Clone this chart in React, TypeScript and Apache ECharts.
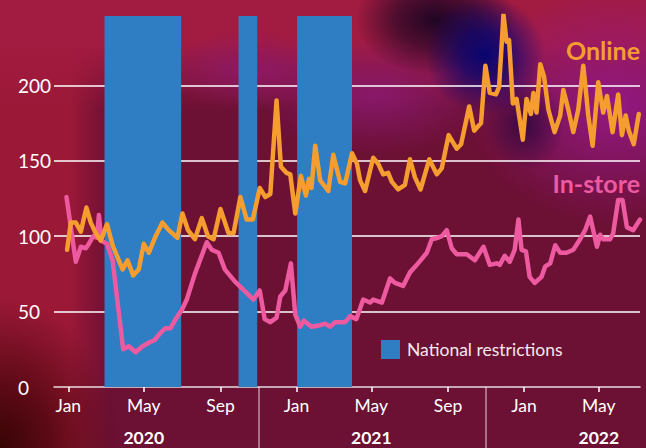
import React, { useEffect, useRef } from 'react';
import * as echarts from 'echarts';

// x values are days since 1 January 2020
const inStoreDays = [-3, 12, 20, 28, 33, 40, 46, 49, 53, 62, 71, 79, 88, 97, 108, 119, 132, 138, 148, 156, 164, 172, 182, 190, 203, 222, 230, 241, 251, 267, 297, 307, 315, 324, 334, 340, 348, 357, 364, 372, 378, 390, 404, 412, 420, 428, 444, 452, 462, 473, 484, 489, 503, 516, 524, 537, 548, 559, 575, 583, 593, 599, 607, 615, 623, 639, 652, 666, 676, 687, 692, 700, 708, 716, 722, 727, 734, 740, 748, 759, 765, 773, 781, 789, 799, 810, 821, 829, 837, 842, 848, 853, 858, 869, 874, 882, 889, 896, 906, 917];
const inStoreValues = [126, 83, 93, 92, 95, 100, 99, 114, 97, 95, 84, 56, 25, 27, 23, 27, 30, 31, 36, 39, 39, 45, 51, 58, 75, 96, 91, 89, 78, 70, 58, 64, 45, 43, 46, 60, 64, 82, 48, 40, 44, 40, 41, 42, 40, 43, 43, 47, 45, 58, 56, 58, 56, 72, 69, 67, 76, 81, 89, 98, 99, 100, 104, 92, 88, 88, 84, 93, 81, 82, 81, 87, 83, 91, 111, 91, 90, 73, 69, 73, 80, 82, 94, 89, 89, 91, 98, 104, 113, 104, 93, 101, 98, 98, 102, 124, 124, 106, 104, 111];

const onlineDays = [-2, 4, 12, 20, 29, 36, 44, 52, 62, 71, 81, 87, 95, 104, 113, 121, 129, 140, 151, 161, 175, 183, 192, 203, 214, 224, 233, 244, 257, 265, 276, 286, 296, 307, 316, 324, 334, 341, 350, 356, 364, 373, 381, 386, 390, 396, 404, 417, 425, 436, 444, 455, 463, 468, 476, 489, 497, 505, 513, 519, 529, 540, 548, 556, 565, 579, 591, 599, 610, 623, 630, 643, 651, 662, 669, 676, 686, 691, 698, 703, 707, 713, 719, 729, 735, 742, 746, 751, 757, 763, 770, 780, 789, 794, 802, 810, 818, 826, 831, 834, 841, 850, 858, 864, 873, 882, 888, 894, 899, 907, 915];
const onlineValues = [91, 109, 109, 103, 119, 109, 102, 97, 108, 94, 84, 78, 84, 74, 78, 95, 89, 100, 109, 104, 99, 115, 104, 98, 112, 100, 98, 118, 102, 102, 126, 111, 111, 132, 126, 128, 190, 146, 142, 141, 115, 140, 127, 138, 132, 160, 137, 130, 154, 136, 135, 155, 148, 137, 130, 152, 148, 141, 142, 136, 131, 134, 151, 139, 131, 151, 141, 145, 167, 158, 161, 186, 170, 175, 213, 195, 194, 199, 247, 229, 230, 188, 191, 164, 191, 181, 195, 182, 214, 206, 184, 169, 180, 197, 184, 169, 184, 213, 193, 180, 160, 202, 182, 193, 169, 194, 167, 180, 170, 161, 181];

const restrictionStarts = [58, 273, 367];
const restrictionEnds = [181, 303, 455];

const monthTickDays = [0, 121, 244, 366, 486, 609, 731, 851];
const monthTickLabels = ['Jan', 'May', 'Sep', 'Jan', 'May', 'Sep', 'Jan', 'May'];
const yearLabelDays = [121, 486, 851];
const yearLabels = ['2020', '2021', '2022'];
const yearSeparatorDays = [305, 670];

const BLUE = '#2f7ec3';
const ORANGE = '#f59d2f';
const PINK = '#ee5aa0';
const FONT = 'Lato, "Open Sans", sans-serif';

function nearestLabel(days: number[], labels: string[], v: number) {
  let best = 0;
  for (let i = 1; i < days.length; i++) {
    if (Math.abs(days[i] - v) < Math.abs(days[best] - v)) best = i;
  }
  return labels[best];
}

export default function App() {
  const ref = useRef<HTMLDivElement>(null);
  useEffect(() => {
    if (!ref.current) return;
    const chart = echarts.init(ref.current, undefined, { renderer: 'svg' });
    chart.setOption({
      animation: false,
      backgroundColor: 'transparent',
      grid: { left: 54, right: 6, top: 16, bottom: 61, containLabel: false },
      legend: {
        data: ['National restrictions'],
        left: 381,
        top: 340,
        padding: 0,
        icon: 'rect',
        itemWidth: 19,
        itemHeight: 19,
        textStyle: { color: '#f4e8ee', fontSize: 17.5, fontFamily: FONT, padding: [0, 0, 0, 2] },
        selectedMode: false,
      },
      xAxis: [
        {
          type: 'value',
          min: -23,
          max: 917,
          position: 'bottom',
          axisLine: { show: true, lineStyle: { color: 'rgba(255,255,255,0.85)', width: 1.5 } },
          axisTick: { show: true, customValues: monthTickDays, length: 5, lineStyle: { color: '#ffffff', width: 1.5 } },
          axisLabel: {
            customValues: monthTickDays,
            formatter: (v: number) => nearestLabel(monthTickDays, monthTickLabels, v),
            color: '#ffffff',
            fontSize: 17.5,
            fontFamily: FONT,
            margin: 9,
          },
          splitLine: { show: false },
        },
        {
          type: 'value',
          min: -23,
          max: 917,
          position: 'bottom',
          offset: 0,
          axisLine: { show: false },
          axisTick: { show: true, customValues: yearSeparatorDays, length: 62, lineStyle: { color: 'rgba(255,255,255,0.55)', width: 1.5 } },
          axisLabel: {
            customValues: yearLabelDays,
            formatter: (v: number) => nearestLabel(yearLabelDays, yearLabels, v),
            color: '#ffffff',
            fontSize: 17.5,
            fontWeight: 'bold',
            fontFamily: FONT,
            margin: 41,
          },
          splitLine: { show: false },
        },
      ],
      yAxis: {
        type: 'value',
        min: 0,
        max: 246,
        interval: 50,
        axisLine: { show: false },
        axisTick: { show: false },
        axisLabel: { color: '#ffffff', fontSize: 19, fontFamily: FONT, align: 'left', margin: 36, showMaxLabel: false },
        splitLine: {
          show: true,
          showMaxLine: false,
          lineStyle: { color: ['rgba(0,0,0,0)', '#ffffff', '#ffffff', '#ffffff', '#ffffff', 'rgba(0,0,0,0)'], width: 1.5 },
        },
      },
      series: [
        {
          name: 'National restrictions',
          type: 'line',
          data: [],
          z: 1,
          itemStyle: { color: BLUE },
          lineStyle: { color: BLUE },
          markArea: {
            silent: true,
            itemStyle: { color: BLUE, opacity: 1 },
            data: restrictionStarts.map((s, i) => [{ xAxis: s }, { xAxis: restrictionEnds[i] }]),
          },
        },
        {
          name: 'In-store',
          type: 'line',
          z: 3,
          showSymbol: false,
          data: inStoreDays.map((d, i) => [d, inStoreValues[i]]),
          lineStyle: { color: PINK, width: 4.5, join: 'round', cap: 'round' },
          itemStyle: { color: PINK },
        },
        {
          name: 'Online',
          type: 'line',
          z: 4,
          showSymbol: false,
          data: onlineDays.map((d, i) => [d, onlineValues[i]]),
          lineStyle: { color: ORANGE, width: 4.5, join: 'round', cap: 'round' },
          itemStyle: { color: ORANGE },
        },
      ],
      graphic: [
        {
          type: 'text',
          x: 640,
          y: 50,
          z: 10,
          style: { text: 'Online', align: 'right', verticalAlign: 'middle', textAlign: 'right', textVerticalAlign: 'middle', fill: ORANGE, font: 'bold 25px ' + FONT },
        },
        {
          type: 'text',
          x: 640,
          y: 183,
          z: 10,
          style: { text: 'In-store', align: 'right', verticalAlign: 'middle', textAlign: 'right', textVerticalAlign: 'middle', fill: PINK, font: 'bold 25px ' + FONT },
        },
      ],
    });
    return () => chart.dispose();
  }, []);

  const bg = [
    'radial-gradient(ellipse 60px 60px at 485px 55px, rgba(0,4,115,0.95) 0%, rgba(0,4,115,0.7) 40%, rgba(0,4,115,0) 100%)',
    'radial-gradient(ellipse 80px 55px at 435px 20px, rgba(25,4,35,0.95) 0%, rgba(25,4,35,0.6) 50%, rgba(25,4,35,0) 100%)',
    'radial-gradient(ellipse 40px 45px at 525px 125px, rgba(40,6,60,0.8) 0%, rgba(40,6,60,0) 100%)',
    'radial-gradient(ellipse 150px 120px at 615px 105px, rgba(150,25,135,0.95) 0%, rgba(150,25,135,0) 100%)',
    'radial-gradient(ellipse 120px 60px at 375px 95px, rgba(140,25,115,0.85) 0%, rgba(140,25,115,0) 100%)',
    'radial-gradient(ellipse 90px 40px at 250px 70px, rgba(140,25,110,0.85) 0%, rgba(140,25,110,0) 100%)',
    'radial-gradient(ellipse 120px 150px at 0px 448px, rgba(55,4,4,1) 0%, rgba(75,6,12,0.8) 40%, rgba(75,6,12,0) 100%)',
    'linear-gradient(to bottom, rgba(162,27,64,1) 0px, rgba(162,27,64,1) 45px, rgba(162,27,64,0) 110px)',
    'linear-gradient(to right, rgba(155,24,55,1) 0px, rgba(155,24,55,1) 70px, rgba(155,24,55,0) 110px)',
    '#6c1034',
  ].join(', ');

  return (
    <div style={{ position: 'fixed', left: 0, top: 0, width: 646, height: 448, background: bg }}>
      <div ref={ref} style={{ width: 646, height: 448 }} />
    </div>
  );
}
